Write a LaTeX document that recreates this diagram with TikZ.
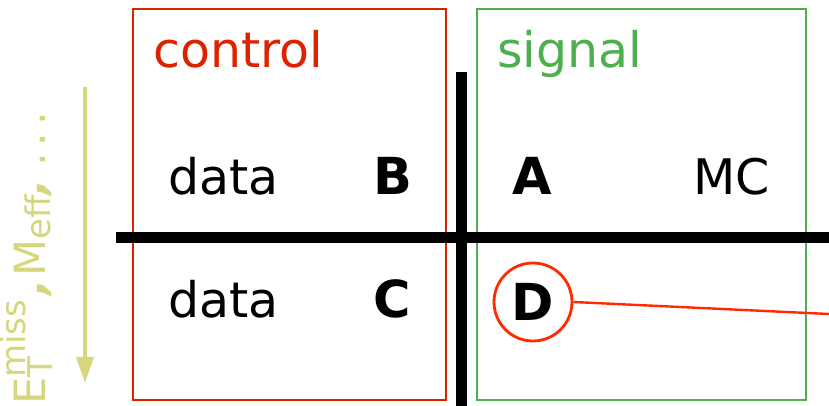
\documentclass[tikz,border=0pt]{standalone}
\usepackage{fontspec}
\setmainfont{DejaVu Sans}
\usetikzlibrary{arrows.meta}
\definecolor{ctrlred}{HTML}{DD2200}
\definecolor{sigreen}{HTML}{4DAF4D}
\definecolor{olive}{HTML}{D6D67C}
\definecolor{ringred}{HTML}{FF2A00}
\tikzset{
  region/.style={draw, line width=1.8pt, minimum width=#1, minimum height=391pt, anchor=north west, inner sep=0pt},
  head/.style={anchor=base west, inner sep=0pt, font=\fontsize{49}{54}\selectfont},
  txt/.style={anchor=base west, inner sep=0pt, font=\fontsize{49}{54}\selectfont},
  letter/.style={anchor=base west, inner sep=0pt, font=\fontsize{51}{56}\selectfont\bfseries},
  bar/.style={line width=11pt},
}
\newcommand{\axsub}[1]{{\fontsize{34}{36}\selectfont #1}}
\begin{document}
\begin{tikzpicture}[x=1pt,y=1pt]
\useasboundingbox (0,0) rectangle (829,406);
% the two regions
\node[region=313pt, ctrlred] (ctrl) at (132,398) {};
\node[region=329pt, sigreen] (sig) at (476,398) {};
\node[head, text=ctrlred] (ctrltitle) at (153,338) {control};
\node[head, text=sigreen] (sigtitle) at (497,338) {signal};
% the cross of cuts
\coordinate (vtop) at (461,334);
\coordinate (vbot) at (461,0);
\coordinate (hl) at (116,168.5);
\coordinate (hr) at (829,168.5);
\draw[bar] (vtop) -- (vbot);
\draw[bar] (hl) -- (hr);
% cells
\node[txt] (dataB) at (168,211) {data};
\node[letter] (B) at (373,211) {B};
\node[letter] (A) at (512,211) {A};
\node[txt] (mc) at (693,211) {MC};
\node[txt] (dataC) at (168,88) {data};
\node[letter] (C) at (373,88) {C};
\node[circle, draw=ringred, line width=2.8pt, minimum size=78pt, inner sep=0pt,
      font=\fontsize{51}{56}\selectfont\bfseries] (D) at (533,104) {D};
\coordinate (out) at (829,92);
\draw[ringred, line width=2.4pt] (D.east) -- (out);
% cut variable axis
\coordinate (atop) at (85,319);
\coordinate (abot) at (85,23);
\draw[olive, line width=4pt, -{Triangle[length=26pt, width=17pt]}] (atop) -- (abot);
\node[anchor=base west, rotate=90, inner sep=0pt, text=olive,
      font=\fontsize{43}{46}\selectfont] (axlabel) at (45,1)
  {E\rlap{\raisebox{-0.3ex}{\axsub{T}}}\raisebox{0.85ex}{\axsub{miss}}\hspace{0.1em}\textbf{\textit{,}}\hspace{0.05em}M\raisebox{-0.25ex}{\axsub{eff}}\textbf{\textit{,}}\hspace{0.3em}.\hspace{0.15em}.\hspace{0.15em}.};
\end{tikzpicture}
\end{document}
